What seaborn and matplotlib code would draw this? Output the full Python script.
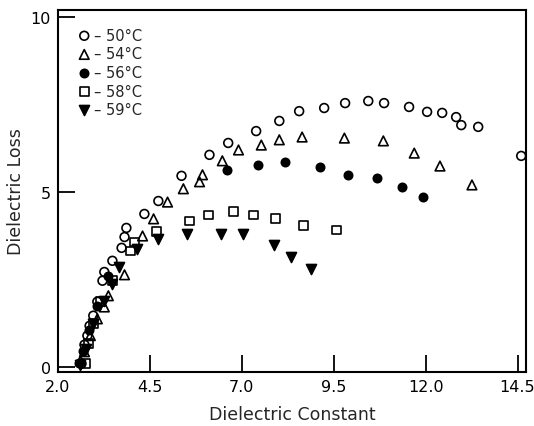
import numpy as np
import pandas as pd
import seaborn as sns
import matplotlib
matplotlib.use("Agg")
import matplotlib.pyplot as plt

# values
x_50 = [2.64, 2.72, 2.80, 2.86, 2.96, 3.07, 3.21, 3.26, 3.48, 3.73, 3.81, 3.86,
        4.35, 4.73, 5.36, 6.12, 6.63, 7.39, 8.02, 8.56, 9.24, 9.81, 10.44,
        10.87, 11.55, 12.04, 12.45, 12.83, 12.97, 13.43, 14.60]
y_50 = [0.09, 0.63, 0.89, 1.17, 1.46, 1.86, 2.46, 2.71, 3.03, 3.40, 3.71, 3.97,
        4.37, 4.74, 5.46, 6.06, 6.40, 6.74, 7.03, 7.31, 7.40, 7.54, 7.60,
        7.54, 7.43, 7.29, 7.26, 7.14, 6.91, 6.86, 6.03]

x_54 = [2.61, 2.72, 2.88, 3.07, 3.26, 3.37, 3.81, 4.30, 4.60, 4.98, 5.41, 5.85,
        5.93, 6.47, 6.91, 7.53, 8.02, 8.64, 9.79, 10.85, 11.69, 12.39, 13.26]
y_54 = [0.17, 0.43, 0.89, 1.37, 1.71, 2.03, 2.63, 3.74, 4.23, 4.71, 5.09, 5.29,
        5.49, 5.89, 6.20, 6.34, 6.49, 6.57, 6.54, 6.46, 6.11, 5.74, 5.20]

x_56 = [2.58, 2.68, 2.85, 3.05, 3.35, 6.61, 7.45, 8.18, 9.13, 9.89, 10.68,
        11.36, 11.93]
y_56 = [0.10, 0.45, 1.05, 1.75, 2.60, 5.63, 5.77, 5.86, 5.71, 5.49, 5.40,
        5.14, 4.86]

x_58 = [2.75, 2.83, 2.96, 3.15, 3.48, 3.97, 4.08, 4.68, 5.57, 6.09, 6.77,
        7.31, 7.91, 8.67, 9.57]
y_58 = [0.09, 0.66, 1.23, 1.86, 2.46, 3.31, 3.57, 3.86, 4.17, 4.34, 4.43,
        4.34, 4.23, 4.03, 3.91]

x_59 = [2.61, 2.75, 2.94, 3.24, 3.48, 3.67, 4.16, 4.73, 5.52, 6.44, 7.04,
        7.88, 8.35, 8.89]
y_59 = [0.06, 0.51, 1.23, 1.89, 2.37, 2.86, 3.37, 3.66, 3.80, 3.80, 3.80,
        3.49, 3.14, 2.80]

labels = ["– 50°C", "– 54°C", "– 56°C", "– 58°C", "– 59°C"]
xs = [x_50, x_54, x_56, x_58, x_59]
ys = [y_50, y_54, y_56, y_58, y_59]

frames = []
for lab, xv, yv in zip(labels, xs, ys):
    frames.append(pd.DataFrame({"eps1": xv, "eps2": yv, "temp": lab}))
df = pd.concat(frames, ignore_index=True)

sns.set_theme(style="ticks")
plt.rcParams["font.family"] = ["DejaVu Sans"]

fig = plt.figure(figsize=(5.34, 4.27), dpi=100)
ax = fig.add_axes([0.1086, 0.1265, 0.8764, 0.8475])

styles = {
    "– 50°C": dict(marker="o", facecolor="none", s=40),
    "– 54°C": dict(marker="^", facecolor="none", s=48),
    "– 56°C": dict(marker="o", facecolor="black", s=36),
    "– 58°C": dict(marker="s", facecolor="none", s=40),
    "– 59°C": dict(marker="v", facecolor="black", s=52),
}
for lab in labels:
    sub = df[df["temp"] == lab]
    st = styles[lab]
    sns.scatterplot(data=sub, x="eps1", y="eps2", ax=ax, marker=st["marker"],
                    s=st["s"], facecolor=st["facecolor"], edgecolor="black",
                    linewidth=1.2, label=lab, zorder=3)

ax.set_xlim(2.0, 14.73)
ax.set_ylim(-0.15, 10.2)
ax.set_xticks([2.0, 4.5, 7.0, 9.5, 12.0, 14.5])
ax.set_xticklabels(["2.0", "4.5", "7.0", "9.5", "12.0", "14.5"])
ax.set_yticks([0, 5, 10])
ax.tick_params(direction="in", length=12, width=1.3, labelsize=11.5,
               colors="black", pad=5)
for sp in ax.spines.values():
    sp.set_linewidth(1.5)
    sp.set_color("black")

ax.set_xlabel("Dielectric Constant", fontsize=12.5, labelpad=8)
ax.set_ylabel("Dielectric Loss", fontsize=12.5, labelpad=4)

leg = ax.legend(loc="upper left", frameon=False, fontsize=10.5,
                handletextpad=0.1, labelspacing=0.25, borderaxespad=0.8,
                handlelength=1.2)

fig.savefig("out.png", dpi=100)
